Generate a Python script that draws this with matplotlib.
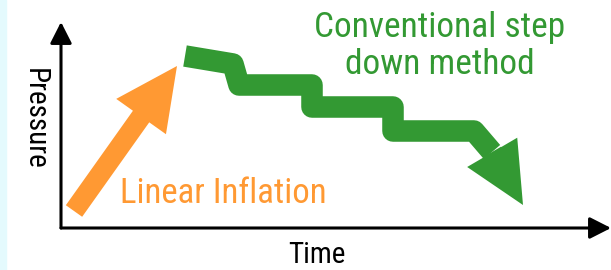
import matplotlib
matplotlib.use('Agg')
import matplotlib.pyplot as plt
from matplotlib.patches import FancyArrow, Rectangle

plt.rcParams['font.family'] = ['Roboto Condensed', 'DejaVu Sans']

# schematic values (time / pressure units ~ pixels)
inflation_time = [13, 116]
inflation_pressure = [17, 162]
step_time = [124, 172, 178, 251, 251, 332, 332, 413, 431]
step_pressure = [172, 164, 143, 143, 121, 121, 97, 97, 76]
step_tip = [462, 23]

orange = '#FF9933'
green = '#339933'

fig = plt.figure(figsize=(6.11, 2.70), dpi=100)
fig.patches.append(Rectangle((0, 0), 6 / 611, 1, transform=fig.transFigure,
                             color='#E4FAFD', zorder=0))

ax = fig.add_axes([61 / 611, 42 / 270, 550 / 611, 206 / 270])
ax.set_xlim(0, 550)
ax.set_ylim(0, 206)
ax.axis('off')

# axes with arrow heads
arw = dict(arrowstyle='-|>,head_length=0.65,head_width=0.33', lw=2.2,
           color='black', mutation_scale=20, shrinkA=0, shrinkB=0)
ax.annotate('', xy=(0, 1), xytext=(0, 0), xycoords='axes fraction',
            arrowprops=arw, annotation_clip=False)
ax.annotate('', xy=(1, 0), xytext=(0, 0), xycoords='axes fraction',
            arrowprops=arw, annotation_clip=False)

# linear inflation
ax.add_patch(FancyArrow(inflation_time[0], inflation_pressure[0],
                        inflation_time[1] - inflation_time[0],
                        inflation_pressure[1] - inflation_pressure[0],
                        width=20, head_width=61, head_length=62,
                        length_includes_head=True, color=orange, lw=0))

# step down
ax.plot(step_time, step_pressure, color=green, lw=15.5,
        solid_joinstyle='round', solid_capstyle='butt')
ax.add_patch(FancyArrow(step_time[-1], step_pressure[-1],
                        step_tip[0] - step_time[-1], step_tip[1] - step_pressure[-1],
                        width=21, head_width=58, head_length=61,
                        length_includes_head=True, color=green, lw=0))

fig.text(440 / 611, 1 - 37 / 270, 'Conventional step', color=green,
         fontsize=25.5, ha='center', va='baseline')
fig.text(440 / 611, 1 - 74 / 270, 'down method', color=green,
         fontsize=25.5, ha='center', va='baseline')
fig.text(120 / 611, 1 - 203 / 270, 'Linear Inflation', color=orange,
         fontsize=25, ha='left', va='baseline')
fig.text(317 / 611, 1 / 270, 'Time', color='black',
         fontsize=21, ha='center', va='bottom')
fig.text(35 / 611, 1 - 119 / 270, 'Pressure', color='black', rotation=-90,
         fontsize=21, ha='center', va='center')

fig.savefig('out.png', dpi=100)
